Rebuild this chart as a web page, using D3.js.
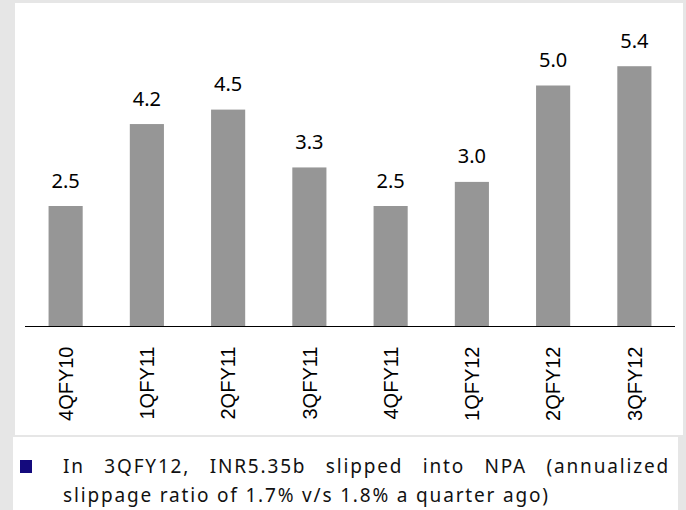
<!DOCTYPE html>
<html>
<head>
<meta charset="utf-8">
<script src="https://cdn.jsdelivr.net/npm/d3@7"></script>
<style>
  html, body { margin: 0; padding: 0; background: #e6e6e6; }
  svg { display: block; }
</style>
</head>
<body>
<svg id="chart" width="686" height="510"></svg>
<script>
const categories = ["4QFY10", "1QFY11", "2QFY11", "3QFY11", "4QFY11", "1QFY12", "2QFY12", "3QFY12"];
const values = [2.5, 4.2, 4.5, 3.3, 2.5, 3.0, 5.0, 5.4];
const valueLabels = ["2.5", "4.2", "4.5", "3.3", "2.5", "3.0", "5.0", "5.4"];
const noteLines = [
  "In 3QFY12, INR5.35b slipped into NPA (annualized",
  "slippage ratio of 1.7% v/s 1.8% a quarter ago)"
];

const svg = d3.select("#chart");

// panels
svg.append("rect").attr("x", 15).attr("y", 3).attr("width", 668).attr("height", 432).attr("fill", "#ffffff");
svg.append("rect").attr("x", 13).attr("y", 437).attr("width", 665).attr("height", 73).attr("fill", "#ffffff");

const x = d3.scaleBand().domain(categories).range([25, 675]).paddingInner(0.58).paddingOuter(0.29);
const y = d3.scaleLinear().domain([0, 6]).range([326.5, 326.5 - 6 * 48.2]);

const g = svg.append("g");
g.selectAll("rect.bar").data(values).join("rect")
  .attr("class", "bar")
  .attr("x", (d, i) => x(categories[i]))
  .attr("y", d => y(d))
  .attr("width", x.bandwidth())
  .attr("height", d => y(0) - y(d))
  .attr("fill", "#969696");

g.selectAll("text.val").data(values).join("text")
  .attr("class", "val")
  .attr("x", (d, i) => x(categories[i]) + x.bandwidth() / 2)
  .attr("y", d => y(d) - 18.5)
  .attr("text-anchor", "middle")
  .attr("font-family", "'Noto Sans', sans-serif")
  .attr("font-size", 20)
  .attr("fill", "#000")
  .text((d, i) => valueLabels[i]);

// x axis
const xAxis = d3.axisBottom(x).tickSize(0).tickPadding(0);
const ax = svg.append("g").attr("transform", `translate(0,${y(0)})`).call(xAxis);
ax.select(".domain").attr("d", "M25,0H675").attr("stroke", "#000").attr("stroke-width", 1.2);
ax.selectAll(".tick text")
  .attr("transform", "rotate(-90)")
  .attr("text-anchor", "end")
  .attr("x", -20)
  .attr("y", 0)
  .attr("dy", "0.36em")
  .attr("font-family", "'Liberation Sans', Arial, sans-serif")
  .attr("font-size", 20)
  .attr("fill", "#000");

// note
svg.append("rect").attr("x", 20).attr("y", 460).attr("width", 12).attr("height", 13).attr("fill", "#140a7d");
const lens = [607, 485];
const baselines = [473, 502];
const notes = svg.selectAll("text.note").data(noteLines).join("text")
  .attr("class", "note")
  .attr("x", 63)
  .attr("y", (d, i) => baselines[i])
  .attr("font-family", "'Noto Sans', sans-serif")
  .attr("font-size", 19)
  .attr("fill", "#111")
  .text(d => d);
// letter spacing to match line 2 width, then justify line 1 with word spacing
const n2 = notes.nodes()[1];
const w2 = n2.getComputedTextLength();
const ls = (lens[1] - w2) / (noteLines[1].length - 1);
notes.style("letter-spacing", ls + "px");
const n1 = notes.nodes()[0];
const w1 = n1.getComputedTextLength();
const spaces = noteLines[0].split(" ").length - 1;
const ws = (lens[0] - w1) / spaces;
d3.select(n1).style("word-spacing", ws + "px");
</script>
</body>
</html>
